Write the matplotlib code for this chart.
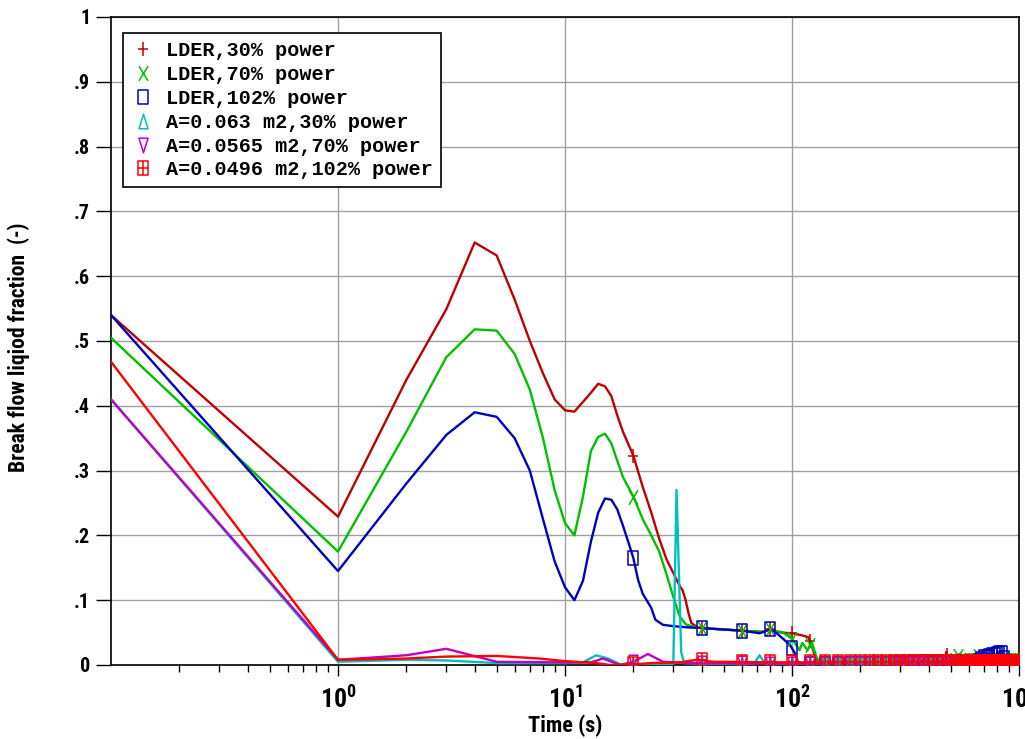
import numpy as np
import matplotlib
matplotlib.use("Agg")
import matplotlib.pyplot as plt
from matplotlib.path import Path
from matplotlib.lines import Line2D
from matplotlib import font_manager

# ---- data ----
t_lder30 = [0.1, 1, 2, 3, 4, 5, 6, 7, 8, 9, 10, 11, 12, 13, 14, 15, 16, 17, 18, 20,
            22, 24, 26, 28, 30, 32, 33, 34, 35, 36, 38, 40, 60, 75, 80, 85, 90, 100,
            110, 118, 122, 128, 135, 200, 300, 400, 470, 478, 485, 600, 800, 1000]
y_lder30 = [0.54, 0.229, 0.44, 0.549, 0.652, 0.632, 0.564, 0.50, 0.45, 0.41, 0.393,
            0.391, 0.406, 0.42, 0.434, 0.43, 0.415, 0.385, 0.36, 0.323, 0.275, 0.235,
            0.195, 0.163, 0.142, 0.122, 0.115, 0.10, 0.08, 0.065, 0.059, 0.057, 0.053,
            0.051, 0.056, 0.052, 0.05, 0.049, 0.046, 0.043, 0.03, 0.008, 0.005, 0.005,
            0.005, 0.006, 0.006, 0.02, 0.006, 0.006, 0.006, 0.006]

t_lder70 = [0.1, 1, 2, 3, 4, 5, 6, 7, 8, 9, 10, 11, 12, 13, 14, 15, 16, 17, 18, 20,
            22, 24, 26, 28, 30, 32, 34, 36, 40, 60, 75, 80, 85, 90, 95, 101, 108, 111,
            117, 122, 128, 132, 200, 400, 520, 537, 555, 640, 656, 670, 800, 1000]
y_lder70 = [0.505, 0.175, 0.36, 0.475, 0.518, 0.516, 0.48, 0.425, 0.35, 0.27, 0.219,
            0.20, 0.26, 0.33, 0.352, 0.357, 0.342, 0.315, 0.29, 0.26, 0.225, 0.20,
            0.175, 0.14, 0.105, 0.075, 0.063, 0.06, 0.057, 0.053, 0.051, 0.056, 0.052,
            0.051, 0.046, 0.039, 0.023, 0.034, 0.023, 0.036, 0.013, 0.005, 0.005,
            0.006, 0.007, 0.015, 0.007, 0.008, 0.016, 0.008, 0.008, 0.008]

t_lder102 = [0.1, 1, 2, 3, 4, 5, 6, 7, 8, 9, 10, 11, 12, 13, 14, 15, 16, 17, 18, 19,
             20, 21, 22, 24, 25, 27, 30, 35, 40, 60, 72, 76, 80, 85, 91, 98, 103, 106,
             110, 200, 400, 650, 700, 760, 820, 850, 870, 1000]
y_lder102 = [0.54, 0.145, 0.28, 0.355, 0.39, 0.383, 0.35, 0.30, 0.225, 0.16, 0.12,
             0.10, 0.13, 0.19, 0.235, 0.257, 0.255, 0.24, 0.215, 0.19, 0.165, 0.131,
             0.11, 0.088, 0.07, 0.062, 0.06, 0.058, 0.057, 0.053, 0.049, 0.052, 0.055,
             0.05, 0.041, 0.031, 0.018, 0.005, 0.002, 0.002, 0.003, 0.004, 0.012,
             0.015, 0.018, 0.018, 0.004, 0.004]

t_a063 = [0.1, 1, 2, 3, 5, 8, 10, 12, 13.7, 15.5, 17.5, 20, 25, 30, 31, 32.5, 33.5,
          40, 60, 68, 72, 76, 100, 200, 1000]
y_a063 = [0.41, 0.005, 0.008, 0.007, 0.003, 0.003, 0.003, 0.004, 0.015, 0.01, 0.001,
          0.0, 0.001, 0.002, 0.27, 0.02, 0.003, 0.002, 0.002, 0.002, 0.015, 0.002,
          0.001, 0.001, 0.001]

t_a0565 = [0.1, 1, 2, 3, 5, 10, 13, 14.7, 17.5, 20, 23.2, 27, 35, 100, 1000]
y_a0565 = [0.41, 0.008, 0.015, 0.025, 0.005, 0.004, 0.004, 0.01, 0.0, 0.005, 0.017,
           0.005, 0.003, 0.002, 0.002]

t_a0496 = [0.1, 1, 2, 3, 5, 7.7, 10, 13.7, 15.8, 20, 24, 32, 38, 45, 100, 1000]
y_a0496 = [0.468, 0.008, 0.01, 0.013, 0.014, 0.01, 0.006, 0.003, 0.0, 0.001, 0.003,
           0.004, 0.008, 0.005, 0.004, 0.004]

labels = ["LDER,30% power", "LDER,70% power", "LDER,102% power",
          "A=0.063 m2,30% power", "A=0.0565 m2,70% power", "A=0.0496 m2,102% power"]

y_ticks = [0, .1, .2, .3, .4, .5, .6, .7, .8, .9, 1]
y_ticklabels = ["0", ".1", ".2", ".3", ".4", ".5", ".6", ".7", ".8", ".9", "1"]
x_ticks = [1, 10, 100, 1000]
x_ticklabels = [r"$\mathregular{10^{0}}$", r"$\mathregular{10^{1}}$",
                r"$\mathregular{10^{2}}$", r"$\mathregular{10^{3}}$"]

# symbols are drawn every 20 s along each curve
mark_t = np.arange(20, 1001, 20)

# ---- fonts ----
names = {f.name for f in font_manager.fontManager.ttflist}
narrow = "Liberation Sans"
for cand in ["Liberation Sans Narrow", "Roboto Condensed", "DejaVu Sans Condensed"]:
    if cand in names:
        narrow = cand
        break
is_narrow = narrow != "Liberation Sans"
mono = "Liberation Mono"

# ---- marker shapes (tall, narrow like the original) ----
M, L, C = Path.MOVETO, Path.LINETO, Path.CLOSEPOLY
w = 0.62
m_plus = Path([(0, -1), (0, 1), (-w, 0), (w, 0)], [M, L, M, L])
m_x = Path([(-w, -1), (w, 1), (-w, 1), (w, -1)], [M, L, M, L])
m_rect = Path([(-w, -1), (w, -1), (w, 1), (-w, 1), (-w, -1)], [M, L, L, L, C])
m_tri = Path([(-w, -1), (w, -1), (0, 1), (-w, -1)], [M, L, L, C])
m_tridn = Path([(-w, 1), (w, 1), (0, -1), (-w, 1)], [M, L, L, C])
m_boxplus = Path([(-w, -1), (w, -1), (w, 1), (-w, 1), (-w, -1),
                  (0, -1), (0, 1), (-w, 0), (w, 0)],
                 [M, L, L, L, C, M, L, M, L])

series = [
    (t_lder30, y_lder30, "#c00000", m_plus),
    (t_lder70, y_lder70, "#00c000", m_x),
    (t_lder102, y_lder102, "#0000c0", m_rect),
    (t_a063, y_a063, "#00c0c0", m_tri),
    (t_a0565, y_a0565, "#c000c0", m_tridn),
    (t_a0496, y_a0496, "#ff0000", m_boxplus),
]

fig = plt.figure(figsize=(10.25, 7.39), dpi=100)
ax = fig.add_axes([111 / 1025, 1 - 665 / 739, 908 / 1025, 648 / 739])

handles = []
for (t, y, col, mk), lab in zip(series, labels):
    ax.plot(t, y, color=col, lw=1.7, zorder=3)
    ax.plot(mark_t, np.interp(mark_t, t, y), ls="none", marker=mk, ms=10.5,
            mfc="none", mec=col, mew=1.1, zorder=4)
    handles.append(Line2D([], [], ls="none", marker=mk, ms=10.5, mfc="none",
                          mec=col, mew=1.1, label=lab))

ax.set_xscale("log")
ax.set_xlim(0.1, 1000)
ax.set_ylim(0, 1)

ax.set_yticks(y_ticks)
ax.set_yticklabels(y_ticklabels)
ax.set_xticks(x_ticks)
ax.set_xticklabels(x_ticklabels)
ax.tick_params(axis="y", which="major", direction="out", length=11, width=1,
               labelsize=14.5, pad=4)
ax.tick_params(axis="x", which="major", direction="out", length=8, width=1,
               labelsize=18.5 if is_narrow else 16, pad=7)
ax.tick_params(axis="x", which="minor", direction="out", length=5, width=1)
for lab in ax.get_xticklabels() + ax.get_yticklabels():
    lab.set_fontfamily(narrow)
    lab.set_fontweight("bold")

ax.grid(True, which="major", color="#a0a0a0", lw=1)
ax.set_axisbelow(True)
for s in ax.spines.values():
    s.set_color("black")
    s.set_linewidth(1.2)

ax.set_xlabel("Time (s)", fontfamily=narrow, fontweight="bold",
              fontsize=16 if is_narrow else 14.5, labelpad=1)
ax.set_ylabel("Break flow liqiod fraction  (-)", fontfamily=narrow, fontweight="bold",
              fontsize=15.5 if is_narrow else 14)
ax.yaxis.set_label_coords(-0.089, 0.49)

leg = ax.legend(handles=handles, loc="upper left", bbox_to_anchor=(0.0132, 0.975),
                borderaxespad=0, frameon=True, fancybox=False, framealpha=1,
                edgecolor="black", handlelength=1.2, handletextpad=0.55,
                labelspacing=0.24, borderpad=0.4,
                prop={"family": mono, "weight": "bold", "size": 14.5})
leg.get_frame().set_linewidth(1.2)

fig.savefig("out.png", dpi=100)
